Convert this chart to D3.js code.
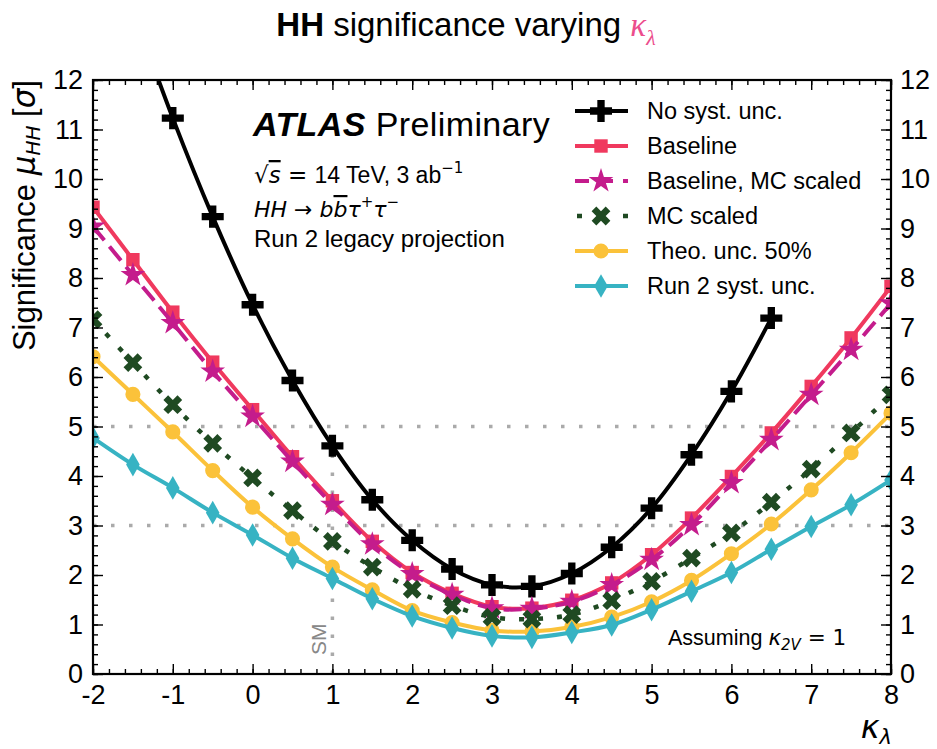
<!DOCTYPE html>
<html>
<head>
<meta charset="utf-8">
<script src="https://cdn.jsdelivr.net/npm/d3@7"></script>
<style>
  body { margin: 0; background: #fff; }
  text { font-family: "Liberation Sans", Arial, sans-serif; }
  .m { font-family: "DejaVu Sans", sans-serif; }
</style>
</head>
<body>
<div id="chart"></div>
<script>
// kappa_lambda scan points
var kl = [-2, -1.5, -1, -0.5, 0, 0.5, 1, 1.5, 2, 2.5, 3, 3.5, 4, 4.5, 5, 5.5, 6, 6.5, 7, 7.5, 8];

// significance values
var noSyst     = [null, 13.43, 11.23, 9.24, 7.46, 5.93, 4.61, 3.52, 2.70, 2.12, 1.80, 1.77, 2.03, 2.56, 3.35, 4.43, 5.71, 7.19, null, null, null];
var baseline   = [9.43, 8.37, 7.31, 6.30, 5.34, 4.39, 3.50, 2.68, 2.05, 1.63, 1.36, 1.33, 1.49, 1.84, 2.41, 3.15, 3.99, 4.87, 5.81, 6.79, 7.83];
var baseMC     = [9.04, 8.06, 7.09, 6.11, 5.20, 4.29, 3.42, 2.62, 2.02, 1.60, 1.33, 1.32, 1.46, 1.80, 2.31, 3.01, 3.86, 4.73, 5.64, 6.55, 7.49];
var mcScaled   = [7.16, 6.29, 5.44, 4.66, 3.96, 3.30, 2.68, 2.16, 1.71, 1.38, 1.15, 1.11, 1.20, 1.48, 1.87, 2.34, 2.85, 3.47, 4.14, 4.87, 5.64];
var theo50     = [6.41, 5.65, 4.89, 4.11, 3.37, 2.73, 2.16, 1.70, 1.28, 1.04, 0.88, 0.86, 0.95, 1.15, 1.46, 1.89, 2.43, 3.03, 3.72, 4.47, 5.27];
var run2Syst   = [4.77, 4.23, 3.76, 3.26, 2.81, 2.34, 1.93, 1.52, 1.17, 0.93, 0.77, 0.74, 0.84, 0.99, 1.30, 1.67, 2.05, 2.52, 2.98, 3.42, 3.92];

var seriesNames = ["No syst. unc.", "Baseline", "Baseline, MC scaled", "MC scaled", "Theo. unc. 50%", "Run 2 syst. unc."];
var seriesVals = [noSyst, baseline, baseMC, mcScaled, theo50, run2Syst];
var seriesColors = ["#000000", "#f0395e", "#c41c8c", "#1f4a22", "#fbc23a", "#37b3c3"];
var seriesDash = [null, null, "18,8", "5,14", null, null];

var xTicks = [-2, -1, 0, 1, 2, 3, 4, 5, 6, 7, 8];
var yTicks = [0, 1, 2, 3, 4, 5, 6, 7, 8, 9, 10, 11, 12];
var refLevels = [3, 5];
var smPoint = 1;

var W = 937, H = 749;
var margin = {top: 80, right: 46, bottom: 75, left: 93},
    width = W - margin.left - margin.right,
    height = H - margin.top - margin.bottom;

var svg = d3.select("#chart").append("svg")
    .attr("width", W).attr("height", H);

var x = d3.scaleLinear().domain([-2, 8]).range([0, width]);
var y = d3.scaleLinear().domain([0, 12]).range([height, 0]);

var g = svg.append("g").attr("transform", "translate(" + margin.left + "," + margin.top + ")");

g.append("clipPath").attr("id", "clip")
  .append("rect").attr("width", width).attr("height", height);

// reference lines
var grey = "#aaaaaa";
refLevels.forEach(function(v) {
  g.append("line")
    .attr("x1", 0).attr("x2", width)
    .attr("y1", y(v)).attr("y2", y(v))
    .attr("stroke", grey).attr("stroke-width", 3.5)
    .attr("stroke-dasharray", "3.5,14.5");
});
g.append("line")
  .attr("x1", x(smPoint)).attr("x2", x(smPoint))
  .attr("y1", y(0)).attr("y2", y(5))
  .attr("stroke", grey).attr("stroke-width", 3.5)
  .attr("stroke-dasharray", "3.5,14.5");
g.append("text")
  .attr("transform", "translate(" + (x(smPoint) - 6) + "," + y(0.7) + ") rotate(-90)")
  .attr("text-anchor", "middle")
  .attr("fill", "#888")
  .attr("font-size", 21)
  .text("SM");

// marker shapes
var markers = [
  function(sel) { sel.attr("d", d3.symbol().type(d3.symbolCross).size(270)()); },
  function(sel) { sel.attr("d", d3.symbol().type(d3.symbolSquare).size(180)()); },
  function(sel) { sel.attr("d", d3.symbol().type(d3.symbolStar).size(190)()); },
  function(sel) { sel.attr("d", d3.symbol().type(d3.symbolCross).size(220)()); },
  function(sel) { sel.attr("d", d3.symbol().type(d3.symbolCircle).size(180)()); },
  function(sel) { sel.attr("d", d3.symbol().type(d3.symbolDiamond).size(160)()); }
];
var markerRot = [0, 0, 0, 45, 0, 0];

var line = d3.line()
  .defined(function(d) { return d.v != null; })
  .x(function(d) { return x(d.k); })
  .y(function(d) { return y(d.v); })
  .curve(d3.curveCatmullRom);

var plot = g.append("g").attr("clip-path", "url(#clip)");
var drawOrder = [0, 1, 4, 5, 2, 3];

drawOrder.forEach(function(i) {
  var data = kl.map(function(k, j) { return {k: k, v: seriesVals[i][j]}; });
  plot.append("path")
    .datum(data)
    .attr("fill", "none")
    .attr("stroke", seriesColors[i])
    .attr("stroke-width", i === 3 ? 4.5 : 4)
    .attr("stroke-dasharray", seriesDash[i])
    .attr("d", line);
  plot.selectAll(null)
    .data(data.filter(function(d) { return d.v != null; }))
    .enter().append("path")
    .call(markers[i])
    .attr("transform", function(d) { return "translate(" + x(d.k) + "," + y(d.v) + ") rotate(" + markerRot[i] + ")"; })
    .attr("fill", seriesColors[i]);
});

// axes: inward ticks on all four sides
var xMinor = d3.range(-2, 8.001, 0.2);
var yMinor = d3.range(0, 12.001, 0.2);
function addAxis(axis, tr) {
  var a = g.append("g").attr("transform", tr).call(axis);
  a.select(".domain").remove();
  a.selectAll("line").attr("stroke", "#000").attr("stroke-width", 1.4);
  return a;
}
// minor
addAxis(d3.axisBottom(x).tickValues(xMinor).tickSize(-5).tickFormat(""), "translate(0," + height + ")");
addAxis(d3.axisTop(x).tickValues(xMinor).tickSize(-5).tickFormat(""), "translate(0,0)");
addAxis(d3.axisLeft(y).tickValues(yMinor).tickSize(-5).tickFormat(""), "translate(0,0)");
addAxis(d3.axisRight(y).tickValues(yMinor).tickSize(-5).tickFormat(""), "translate(" + width + ",0)");
// major
var xb = addAxis(d3.axisBottom(x).tickValues(xTicks).tickSize(-10).tickPadding(11).tickFormat(d3.format("d")), "translate(0," + height + ")");
addAxis(d3.axisTop(x).tickValues(xTicks).tickSize(-10).tickFormat(""), "translate(0,0)");
var yl = addAxis(d3.axisLeft(y).tickValues(yTicks).tickSize(-10).tickPadding(10), "translate(0,0)");
var yr = addAxis(d3.axisRight(y).tickValues(yTicks).tickSize(-10).tickPadding(9), "translate(" + width + ",0)");
[xb, yl, yr].forEach(function(a) {
  a.selectAll("text").attr("font-size", 27).attr("fill", "#000")
    .attr("font-family", "'Liberation Sans', Arial, sans-serif");
});
xb.selectAll("text").text(function(d) { return d < 0 ? "-" + Math.abs(d) : d; });

g.append("rect").attr("width", width).attr("height", height)
  .attr("fill", "none").attr("stroke", "#000").attr("stroke-width", 2.2);

// title
var title = svg.append("text").attr("x", 466).attr("y", 36)
  .attr("text-anchor", "middle").attr("font-size", 33);
title.append("tspan").attr("font-weight", "bold").text("HH");
title.append("tspan").text(" significance varying ");
title.append("tspan").attr("fill", "#ec4d8c").attr("font-style", "italic")
  .attr("font-family", "'Liberation Serif', serif").text("κ");
title.append("tspan").attr("fill", "#ec4d8c").attr("font-style", "italic")
  .attr("font-family", "'Liberation Serif', serif").attr("font-size", 22).attr("dy", 9).text("λ");

// y label
var ylab = svg.append("text")
  .attr("transform", "translate(35," + 80 + ") rotate(-90)")
  .attr("text-anchor", "end").attr("font-size", 31);
ylab.append("tspan").text("Significance ");
ylab.append("tspan").attr("class", "m").attr("font-style", "italic").text("μ");
ylab.append("tspan").attr("class", "m").attr("font-style", "italic").attr("font-size", 20).attr("dy", 5).text("HH");
ylab.append("tspan").attr("dy", -5).text(" [");
ylab.append("tspan").attr("class", "m").attr("font-style", "italic").text("σ");
ylab.append("tspan").text("]");

// x label
var xlab = svg.append("text").attr("x", 892).attr("y", 738)
  .attr("text-anchor", "end").attr("font-size", 32).attr("class", "m").attr("font-style", "italic");
xlab.append("tspan").text("κ");
xlab.append("tspan").attr("font-size", 21).attr("dy", 6).text("λ");

// ATLAS label
var atl = svg.append("text").attr("x", 253).attr("y", 136).attr("font-size", 34).attr("letter-spacing", 0.4);
atl.append("tspan").attr("font-weight", "bold").attr("font-style", "italic").text("ATLAS");
atl.append("tspan").text(" Preliminary");

var l1 = svg.append("text").attr("x", 254).attr("y", 183).attr("font-size", 23);
l1.append("tspan").attr("class", "m").text("√");
l1.append("tspan").attr("class", "m").attr("font-style", "italic").attr("text-decoration", "overline").text("s");
l1.append("tspan").attr("class", "m").text(" = ");
l1.append("tspan").text("14 TeV, 3 ab");
l1.append("tspan").attr("class", "m").attr("font-size", 15).attr("dy", -10).text("−1");

var l2 = svg.append("text").attr("x", 254).attr("y", 217).attr("font-size", 22)
  .attr("class", "m").attr("font-style", "italic");
l2.append("tspan").text("HH");
l2.append("tspan").attr("font-style", "normal").text(" → ");
l2.append("tspan").text("b");
l2.append("tspan").attr("text-decoration", "overline").text("b");
l2.append("tspan").text("τ");
l2.append("tspan").attr("font-size", 15).attr("dy", -10).attr("font-style", "normal").text("+");
l2.append("tspan").attr("dy", 10).text("τ");
l2.append("tspan").attr("font-size", 15).attr("dy", -10).attr("font-style", "normal").text("−");

svg.append("text").attr("x", 254).attr("y", 247).attr("font-size", 24).text("Run 2 legacy projection");

// legend
var legY0 = 111, legDy = 35;
seriesNames.forEach(function(name, i) {
  var ly = legY0 + i * legDy;
  svg.append("line").attr("x1", 575).attr("x2", 628).attr("y1", ly).attr("y2", ly)
    .attr("stroke", seriesColors[i]).attr("stroke-width", i === 3 ? 4.5 : 4)
    .attr("stroke-dasharray", i === 3 ? "5,18" : (i === 2 ? "14,10" : null))
    .attr("stroke-dashoffset", i === 3 ? -2 : 0);
  svg.append("path").call(markers[i])
    .attr("transform", "translate(601," + ly + ") rotate(" + markerRot[i] + ")")
    .attr("fill", seriesColors[i]);
  svg.append("text").attr("x", 647).attr("y", ly + 7.5).attr("font-size", 23.5).text(name);
});

// kappa_2V note
var note = svg.append("text").attr("x", 668).attr("y", 645).attr("font-size", 21.5);
note.append("tspan").text("Assuming ");
note.append("tspan").attr("class", "m").attr("font-style", "italic").text("κ");
note.append("tspan").attr("class", "m").attr("font-style", "italic").attr("font-size", 15).attr("dy", 5).text("2V");
note.append("tspan").attr("class", "m").attr("dy", -5).text(" = 1");
</script>
</body>
</html>
